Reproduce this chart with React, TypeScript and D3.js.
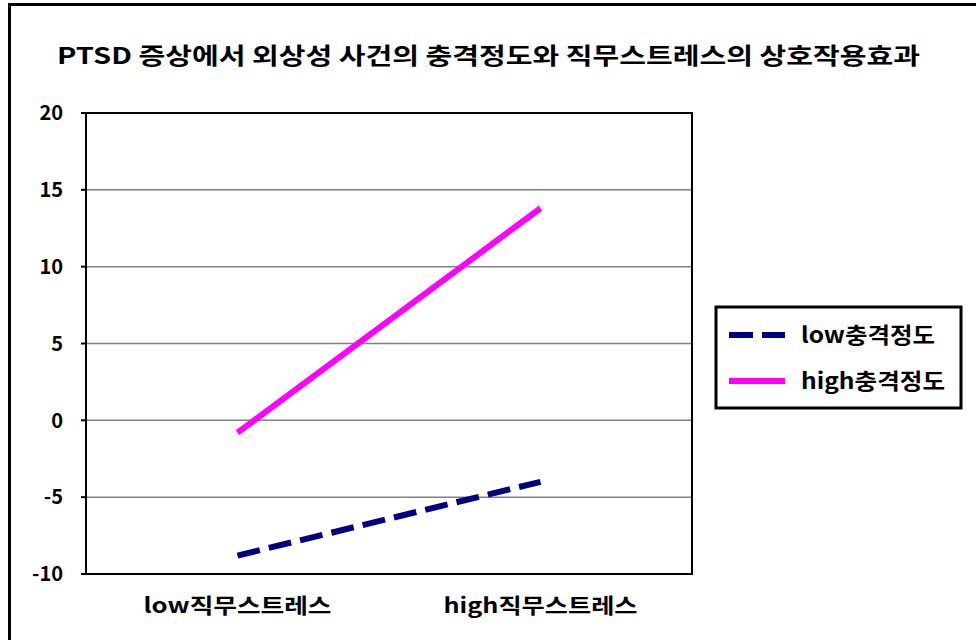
import React from "react";
import * as d3 from "d3";

const title = "PTSD 증상에서 외상성 사건의 충격정도와 직무스트레스의 상호작용효과";
const categories = ["low직무스트레스", "high직무스트레스"];
const seriesNames = ["low충격정도", "high충격정도"];
const lowImpact = [-8.8, -4.0];
const highImpact = [-0.8, 13.8];
const yTicks = [-10, -5, 0, 5, 10, 15, 20];

const FONT = "'Noto Sans CJK KR', 'Noto Sans', sans-serif";

export default function App() {
  const W = 976, H = 640;
  const plot = { left: 86, right: 692, top: 113, bottom: 574 };
  const x = d3.scaleBand<string>().domain(categories).range([plot.left, plot.right]);
  const y = d3.scaleLinear().domain([-10, 20]).range([plot.bottom, plot.top]);
  const line = d3
    .line<number>()
    .x((_, i) => (x(categories[i]) as number) + x.bandwidth() / 2)
    .y((d) => y(d));
  const series = [
    { name: seriesNames[0], values: lowImpact, color: "#000080", dash: "23 9.2", legendDash: "24 9", lw: 134 },
    { name: seriesNames[1], values: highImpact, color: "#FF00FF", dash: undefined as string | undefined, legendDash: undefined as string | undefined, lw: 144 },
  ];
  const catWidths = [188, 194];
  return (
    <svg width={W} height={H} style={{ position: "absolute", left: 0, top: 0 }}>
      <rect x={0} y={0} width={W} height={H} fill="#fff" />
      <rect x={9.5} y={4.5} width={W + 20} height={H + 20} fill="none" stroke="#000" strokeWidth={3} />
      <text x={57} y={64} textLength={863} lengthAdjust="spacingAndGlyphs" fontFamily={FONT} fontWeight="bold" fontSize={23} fill="#000">
        {title}
      </text>
      {yTicks.map((t) => (
        <g key={t}>
          {t !== -10 && t !== 20 && (
            <line x1={plot.left} x2={plot.right} y1={y(t)} y2={y(t)} stroke="#808080" strokeWidth={1.5} />
          )}
          <line x1={plot.left - 5} x2={plot.left} y1={y(t)} y2={y(t)} stroke="#000" strokeWidth={2} />
          <text x={63} y={y(t)} dy="0.36em" textAnchor="end" fontFamily={FONT} fontWeight="bold" fontSize={20} fill="#000">
            {t}
          </text>
        </g>
      ))}
      <rect x={plot.left} y={plot.top} width={plot.right - plot.left} height={plot.bottom - plot.top} fill="none" stroke="#000" strokeWidth={2} />
      {categories.map((c, i) => (
        <text key={c} x={(x(c) as number) + x.bandwidth() / 2 - catWidths[i] / 2} y={613} textLength={catWidths[i]} lengthAdjust="spacingAndGlyphs" fontFamily={FONT} fontWeight="bold" fontSize={21} fill="#000">
          {c}
        </text>
      ))}
      {series.map((s) => (
        <path key={s.name} d={line(s.values) || ""} fill="none" stroke={s.color} strokeWidth={6} strokeDasharray={s.dash} />
      ))}
      <rect x={716} y={307} width={245} height={101} fill="#fff" stroke="#000" strokeWidth={3} />
      {series.map((s, i) => (
        <g key={s.name} transform={`translate(0, ${335 + i * 46})`}>
          <line x1={729} x2={785} y1={0} y2={0} stroke={s.color} strokeWidth={6} strokeDasharray={s.legendDash} />
          <text x={801} y={0} dy="0.36em" textLength={s.lw} lengthAdjust="spacingAndGlyphs" fontFamily={FONT} fontWeight="bold" fontSize={22} fill="#000">
            {s.name}
          </text>
        </g>
      ))}
    </svg>
  );
}
